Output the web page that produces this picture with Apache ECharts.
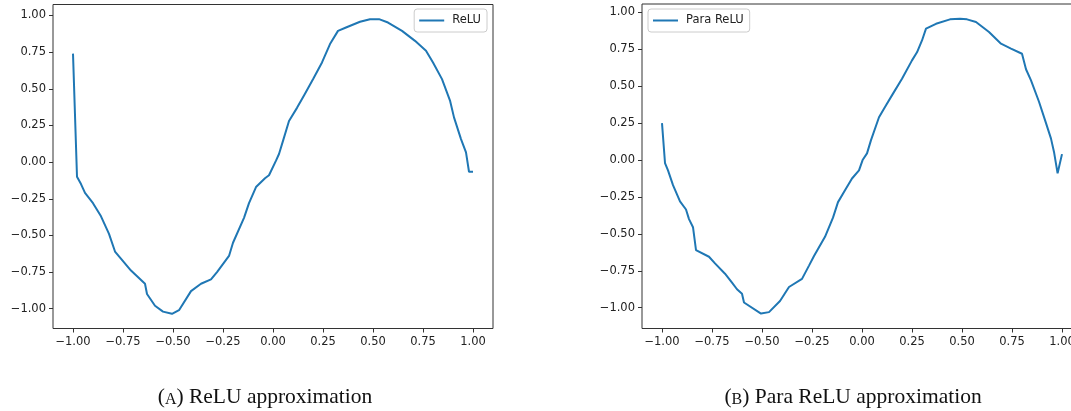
<!DOCTYPE html>
<html>
<head>
<meta charset="utf-8">
<script src="https://cdn.jsdelivr.net/npm/echarts@6/dist/echarts.min.js"></script>
<style>
html,body{margin:0;padding:0;background:#fff;overflow:hidden;width:1071px;height:411px;}
#c{width:1100px;height:411px;}
</style>
</head>
<body>
<div id="c"></div>
<script>
// ---- data ----
const xTicks = [-1.00, -0.75, -0.50, -0.25, 0.00, 0.25, 0.50, 0.75, 1.00];
const yTicks = [-1.00, -0.75, -0.50, -0.25, 0.00, 0.25, 0.50, 0.75, 1.00];

const reluX = [-1.00, -0.98, -0.96, -0.94, -0.90, -0.86, -0.82, -0.79, -0.71, -0.64, -0.63, -0.59, -0.55, -0.505, -0.47, -0.41, -0.36, -0.31, -0.28, -0.22, -0.20, -0.145, -0.12, -0.085, -0.04, -0.02, 0.015, 0.03, 0.05, 0.08, 0.12, 0.155, 0.20, 0.245, 0.285, 0.325, 0.365, 0.435, 0.485, 0.53, 0.575, 0.645, 0.71, 0.765, 0.80, 0.845, 0.885, 0.905, 0.94, 0.965, 0.98, 1.00];
const reluY = [0.74, -0.10, -0.15, -0.21, -0.28, -0.37, -0.49, -0.61, -0.74, -0.83, -0.90, -0.98, -1.02, -1.035, -1.01, -0.88, -0.83, -0.80, -0.75, -0.64, -0.55, -0.38, -0.28, -0.17, -0.11, -0.09, 0.01, 0.055, 0.145, 0.28, 0.37, 0.455, 0.565, 0.68, 0.805, 0.895, 0.918, 0.957, 0.975, 0.975, 0.952, 0.895, 0.827, 0.76, 0.68, 0.566, 0.42, 0.305, 0.157, 0.066, -0.066, -0.066];

const paraX = [-1.00, -0.985, -0.97, -0.945, -0.91, -0.88, -0.865, -0.845, -0.83, -0.765, -0.735, -0.685, -0.65, -0.625, -0.60, -0.59, -0.505, -0.465, -0.41, -0.365, -0.30, -0.265, -0.24, -0.185, -0.145, -0.12, -0.085, -0.05, -0.015, 0.003, 0.025, 0.045, 0.085, 0.115, 0.155, 0.20, 0.25, 0.275, 0.30, 0.32, 0.37, 0.44, 0.49, 0.525, 0.57, 0.635, 0.695, 0.745, 0.80, 0.82, 0.845, 0.885, 0.92, 0.945, 0.96, 0.978, 1.00];
const paraY = [0.25, -0.02, -0.07, -0.17, -0.28, -0.335, -0.40, -0.455, -0.61, -0.655, -0.70, -0.77, -0.83, -0.875, -0.905, -0.965, -1.04, -1.03, -0.955, -0.86, -0.805, -0.715, -0.65, -0.52, -0.39, -0.285, -0.205, -0.125, -0.07, 0.0, 0.045, 0.135, 0.29, 0.36, 0.45, 0.55, 0.675, 0.73, 0.81, 0.89, 0.923, 0.953, 0.957, 0.953, 0.935, 0.867, 0.788, 0.755, 0.72, 0.615, 0.54, 0.395, 0.25, 0.145, 0.055, -0.09, 0.04];

const seriesNames = ['ReLU', 'Para ReLU'];
const captions = ['A', 'ReLU approximation', 'B', 'Para ReLU approximation'];

// ---- chart ----
const zip = (xs, ys) => xs.map((x, i) => [x, ys[i]]);
const fmt = v => {
  const s = Math.abs(v).toFixed(2);
  return (v < -1e-9 ? '\u2212' : '') + s;
};
const labelStyle = {color: '#222', fontFamily: 'DejaVu Sans', fontSize: 11.5};
const tickStyle = {lineStyle: {color: '#333', width: 1}, length: 4};

function xAxis(gi) {
  return {
    type: 'value', gridIndex: gi, min: -1.1, max: 1.1,
    axisLine: {show: false, onZero: false},
    splitLine: {show: false},
    axisTick: Object.assign({customValues: xTicks}, tickStyle),
    axisLabel: Object.assign({customValues: xTicks, formatter: fmt, margin: 8}, labelStyle)
  };
}
function yAxis(gi, mn, mx) {
  return {
    type: 'value', gridIndex: gi, min: mn, max: mx,
    axisLine: {show: false, onZero: false},
    splitLine: {show: false},
    axisTick: Object.assign({customValues: yTicks}, tickStyle),
    axisLabel: Object.assign({customValues: yTicks, formatter: fmt, margin: 7}, labelStyle)
  };
}
const lineColor = '#1f77b4';
const legendBase = {
  orient: 'horizontal', top: 9, itemWidth: 25, itemHeight: 2, icon: 'rect',
  padding: [5, 6, 5, 5], borderColor: '#ccc', borderWidth: 1, borderRadius: 3,
  backgroundColor: 'rgba(255,255,255,0.8)',
  itemStyle: {color: lineColor},
  textStyle: Object.assign({padding: [0, 0, 0, 3], lineHeight: 13}, labelStyle)
};

const chart = echarts.init(document.getElementById('c'), null, {renderer: 'canvas', width: 1100, height: 411});
chart.setOption({
  animation: false,
  backgroundColor: '#fff',
  grid: [
    {left: 53, top: 4.5, width: 440, height: 324, show: true, borderColor: '#333', borderWidth: 1, backgroundColor: 'transparent'},
    {left: 642, top: 4, width: 440, height: 324.5, show: true, borderColor: '#333', borderWidth: 1, backgroundColor: 'transparent'}
  ],
  xAxis: [xAxis(0), xAxis(1)],
  yAxis: [yAxis(0, -1.135, 1.075), yAxis(1, -1.141, 1.057)],
  legend: [
    Object.assign({data: [seriesNames[0]], right: 1100 - 487}, legendBase),
    Object.assign({data: [seriesNames[1]], left: 648}, legendBase)
  ],
  series: [
    {name: seriesNames[0], type: 'line', xAxisIndex: 0, yAxisIndex: 0, data: zip(reluX, reluY),
     symbol: 'none', lineStyle: {color: lineColor, width: 2}, itemStyle: {color: lineColor}},
    {name: seriesNames[1], type: 'line', xAxisIndex: 1, yAxisIndex: 1, data: zip(paraX, paraY),
     symbol: 'none', lineStyle: {color: lineColor, width: 2}, itemStyle: {color: lineColor}}
  ],
  graphic: [
    {type: 'text', x: 265, y: 397, style: {
      text: '(' + '{s|' + captions[0] + '}) ' + captions[1],
      textAlign: 'center', textVerticalAlign: 'middle',
      fontFamily: 'Liberation Serif', fontSize: 21.5, fill: '#111',
      rich: {s: {fontFamily: 'Liberation Serif', fontSize: 16, fill: '#111', verticalAlign: 'bottom'}}
    }},
    {type: 'text', x: 853, y: 397, style: {
      text: '(' + '{s|' + captions[2] + '}) ' + captions[3],
      textAlign: 'center', textVerticalAlign: 'middle',
      fontFamily: 'Liberation Serif', fontSize: 21.5, fill: '#111',
      rich: {s: {fontFamily: 'Liberation Serif', fontSize: 16, fill: '#111', verticalAlign: 'bottom'}}
    }}
  ]
});
</script>
</body>
</html>
